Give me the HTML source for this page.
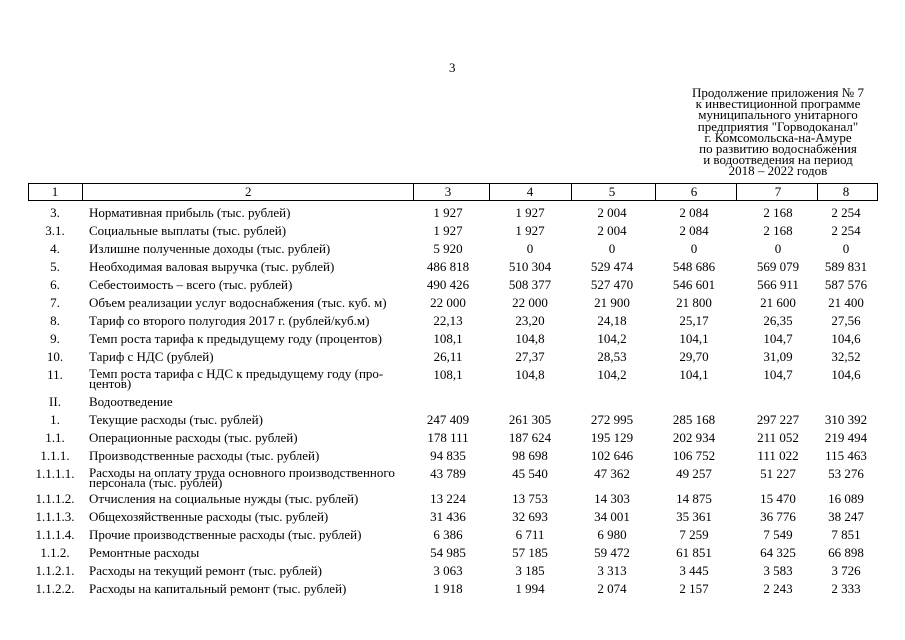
<!DOCTYPE html>
<html><head><meta charset="utf-8"><style>
body{margin:0;width:905px;height:640px;background:#fff;font-family:"Liberation Serif",serif;color:#000;position:relative;overflow:hidden}
.t{position:absolute;font-size:13px;line-height:12px;white-space:nowrap}
.hdr{position:absolute;left:680px;width:196px;top:87px;text-align:center;font-size:13px;line-height:11.2px}
.row{position:absolute;left:0;width:905px;height:12px;font-size:13px;line-height:11px}
.row span{position:absolute;top:0;white-space:nowrap}
.c1{left:28px;width:54px;text-align:center}
.c2{left:89px}
.n{text-align:center;width:80px}
</style></head><body>
<div class="t" style="left:449px;top:62px">3</div>
<div class="hdr">Продолжение приложения № 7<br>к инвестиционной программе<br>муниципального унитарного<br>предприятия "Горводоканал"<br>г. Комсомольска-на-Амуре<br>по развитию водоснабжения<br>и водоотведения на период<br>2018 – 2022 годов</div>
<div style="position:absolute;left:28px;top:183px;width:848px;height:16px;border:1px solid #000"></div>
<div style="position:absolute;top:183px;height:18px;left:82px;border-left:1px solid #000"></div>
<div style="position:absolute;top:183px;height:18px;left:413px;border-left:1px solid #000"></div>
<div style="position:absolute;top:183px;height:18px;left:489px;border-left:1px solid #000"></div>
<div style="position:absolute;top:183px;height:18px;left:571px;border-left:1px solid #000"></div>
<div style="position:absolute;top:183px;height:18px;left:655px;border-left:1px solid #000"></div>
<div style="position:absolute;top:183px;height:18px;left:736px;border-left:1px solid #000"></div>
<div style="position:absolute;top:183px;height:18px;left:817px;border-left:1px solid #000"></div>
<div class="row" style="top:186px"><span class="c1">1</span><span style="left:245px">2</span><span class="n" style="left:408px">3</span><span class="n" style="left:490px">4</span><span class="n" style="left:572px">5</span><span class="n" style="left:654px">6</span><span class="n" style="left:738px">7</span><span class="n" style="left:806px">8</span></div>
<div class="row" style="top:207px"><span class="c1">3.</span><span class="c2">Нормативная прибыль (тыс. рублей)</span><span class="n" style="left:408px">1 927</span><span class="n" style="left:490px">1 927</span><span class="n" style="left:572px">2 004</span><span class="n" style="left:654px">2 084</span><span class="n" style="left:738px">2 168</span><span class="n" style="left:806px">2 254</span></div>
<div class="row" style="top:225px"><span class="c1">3.1.</span><span class="c2">Социальные выплаты (тыс. рублей)</span><span class="n" style="left:408px">1 927</span><span class="n" style="left:490px">1 927</span><span class="n" style="left:572px">2 004</span><span class="n" style="left:654px">2 084</span><span class="n" style="left:738px">2 168</span><span class="n" style="left:806px">2 254</span></div>
<div class="row" style="top:243px"><span class="c1">4.</span><span class="c2">Излишне полученные доходы (тыс. рублей)</span><span class="n" style="left:408px">5 920</span><span class="n" style="left:490px">0</span><span class="n" style="left:572px">0</span><span class="n" style="left:654px">0</span><span class="n" style="left:738px">0</span><span class="n" style="left:806px">0</span></div>
<div class="row" style="top:261px"><span class="c1">5.</span><span class="c2">Необходимая валовая выручка (тыс. рублей)</span><span class="n" style="left:408px">486 818</span><span class="n" style="left:490px">510 304</span><span class="n" style="left:572px">529 474</span><span class="n" style="left:654px">548 686</span><span class="n" style="left:738px">569 079</span><span class="n" style="left:806px">589 831</span></div>
<div class="row" style="top:279px"><span class="c1">6.</span><span class="c2">Себестоимость – всего (тыс. рублей)</span><span class="n" style="left:408px">490 426</span><span class="n" style="left:490px">508 377</span><span class="n" style="left:572px">527 470</span><span class="n" style="left:654px">546 601</span><span class="n" style="left:738px">566 911</span><span class="n" style="left:806px">587 576</span></div>
<div class="row" style="top:297px"><span class="c1">7.</span><span class="c2">Объем реализации услуг водоснабжения (тыс. куб. м)</span><span class="n" style="left:408px">22 000</span><span class="n" style="left:490px">22 000</span><span class="n" style="left:572px">21 900</span><span class="n" style="left:654px">21 800</span><span class="n" style="left:738px">21 600</span><span class="n" style="left:806px">21 400</span></div>
<div class="row" style="top:315px"><span class="c1">8.</span><span class="c2">Тариф со второго полугодия 2017 г. (рублей/куб.м)</span><span class="n" style="left:408px">22,13</span><span class="n" style="left:490px">23,20</span><span class="n" style="left:572px">24,18</span><span class="n" style="left:654px">25,17</span><span class="n" style="left:738px">26,35</span><span class="n" style="left:806px">27,56</span></div>
<div class="row" style="top:333px"><span class="c1">9.</span><span class="c2">Темп роста тарифа к предыдущему году (процентов)</span><span class="n" style="left:408px">108,1</span><span class="n" style="left:490px">104,8</span><span class="n" style="left:572px">104,2</span><span class="n" style="left:654px">104,1</span><span class="n" style="left:738px">104,7</span><span class="n" style="left:806px">104,6</span></div>
<div class="row" style="top:351px"><span class="c1">10.</span><span class="c2">Тариф с НДС (рублей)</span><span class="n" style="left:408px">26,11</span><span class="n" style="left:490px">27,37</span><span class="n" style="left:572px">28,53</span><span class="n" style="left:654px">29,70</span><span class="n" style="left:738px">31,09</span><span class="n" style="left:806px">32,52</span></div>
<div class="row" style="top:369px"><span class="c1">11.</span><span class="c2" style="line-height:10px">Темп роста тарифа с НДС к предыдущему году (про-<br>центов)</span><span class="n" style="left:408px">108,1</span><span class="n" style="left:490px">104,8</span><span class="n" style="left:572px">104,2</span><span class="n" style="left:654px">104,1</span><span class="n" style="left:738px">104,7</span><span class="n" style="left:806px">104,6</span></div>
<div class="row" style="top:396px"><span class="c1">II.</span><span class="c2">Водоотведение</span></div>
<div class="row" style="top:414px"><span class="c1">1.</span><span class="c2">Текущие расходы (тыс. рублей)</span><span class="n" style="left:408px">247 409</span><span class="n" style="left:490px">261 305</span><span class="n" style="left:572px">272 995</span><span class="n" style="left:654px">285 168</span><span class="n" style="left:738px">297 227</span><span class="n" style="left:806px">310 392</span></div>
<div class="row" style="top:432px"><span class="c1">1.1.</span><span class="c2">Операционные расходы (тыс. рублей)</span><span class="n" style="left:408px">178 111</span><span class="n" style="left:490px">187 624</span><span class="n" style="left:572px">195 129</span><span class="n" style="left:654px">202 934</span><span class="n" style="left:738px">211 052</span><span class="n" style="left:806px">219 494</span></div>
<div class="row" style="top:450px"><span class="c1">1.1.1.</span><span class="c2">Производственные расходы (тыс. рублей)</span><span class="n" style="left:408px">94 835</span><span class="n" style="left:490px">98 698</span><span class="n" style="left:572px">102 646</span><span class="n" style="left:654px">106 752</span><span class="n" style="left:738px">111 022</span><span class="n" style="left:806px">115 463</span></div>
<div class="row" style="top:468px"><span class="c1">1.1.1.1.</span><span class="c2" style="line-height:10px">Расходы на оплату труда основного производственного<br>персонала (тыс. рублей)</span><span class="n" style="left:408px">43 789</span><span class="n" style="left:490px">45 540</span><span class="n" style="left:572px">47 362</span><span class="n" style="left:654px">49 257</span><span class="n" style="left:738px">51 227</span><span class="n" style="left:806px">53 276</span></div>
<div class="row" style="top:493px"><span class="c1">1.1.1.2.</span><span class="c2">Отчисления на социальные нужды (тыс. рублей)</span><span class="n" style="left:408px">13 224</span><span class="n" style="left:490px">13 753</span><span class="n" style="left:572px">14 303</span><span class="n" style="left:654px">14 875</span><span class="n" style="left:738px">15 470</span><span class="n" style="left:806px">16 089</span></div>
<div class="row" style="top:511px"><span class="c1">1.1.1.3.</span><span class="c2">Общехозяйственные расходы (тыс. рублей)</span><span class="n" style="left:408px">31 436</span><span class="n" style="left:490px">32 693</span><span class="n" style="left:572px">34 001</span><span class="n" style="left:654px">35 361</span><span class="n" style="left:738px">36 776</span><span class="n" style="left:806px">38 247</span></div>
<div class="row" style="top:529px"><span class="c1">1.1.1.4.</span><span class="c2">Прочие производственные расходы (тыс. рублей)</span><span class="n" style="left:408px">6 386</span><span class="n" style="left:490px">6 711</span><span class="n" style="left:572px">6 980</span><span class="n" style="left:654px">7 259</span><span class="n" style="left:738px">7 549</span><span class="n" style="left:806px">7 851</span></div>
<div class="row" style="top:547px"><span class="c1">1.1.2.</span><span class="c2">Ремонтные расходы</span><span class="n" style="left:408px">54 985</span><span class="n" style="left:490px">57 185</span><span class="n" style="left:572px">59 472</span><span class="n" style="left:654px">61 851</span><span class="n" style="left:738px">64 325</span><span class="n" style="left:806px">66 898</span></div>
<div class="row" style="top:565px"><span class="c1">1.1.2.1.</span><span class="c2">Расходы на текущий ремонт (тыс. рублей)</span><span class="n" style="left:408px">3 063</span><span class="n" style="left:490px">3 185</span><span class="n" style="left:572px">3 313</span><span class="n" style="left:654px">3 445</span><span class="n" style="left:738px">3 583</span><span class="n" style="left:806px">3 726</span></div>
<div class="row" style="top:583px"><span class="c1">1.1.2.2.</span><span class="c2">Расходы на капитальный ремонт (тыс. рублей)</span><span class="n" style="left:408px">1 918</span><span class="n" style="left:490px">1 994</span><span class="n" style="left:572px">2 074</span><span class="n" style="left:654px">2 157</span><span class="n" style="left:738px">2 243</span><span class="n" style="left:806px">2 333</span></div>
</body></html>
